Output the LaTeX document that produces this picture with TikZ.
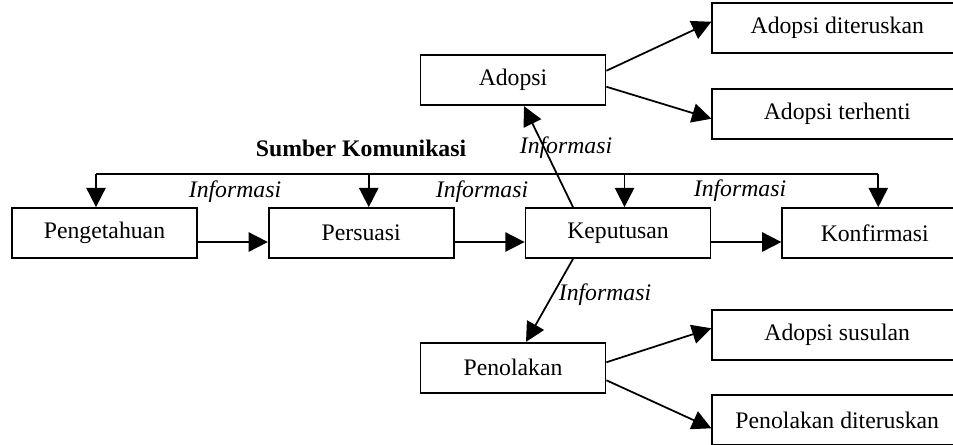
\documentclass[tikz,border=0pt]{standalone}
\usepackage{fontspec}
\setmainfont{Liberation Serif}
\usetikzlibrary{arrows.meta,positioning,calc}

\begin{document}
\begin{tikzpicture}[->, >={Triangle[length=11pt,width=11pt]}, line width=1pt, node distance=1.4cm,
	kotak/.style={rectangle, draw, minimum width=3.7cm, minimum height=1cm, inner sep=0pt, font=\fontsize{13.5}{16}\selectfont},
	hasil/.style={kotak, minimum width=5cm},
	info/.style={font=\fontsize{13.5}{16}\selectfont\itshape}]
	\useasboundingbox (0,0) rectangle (19.06,-8.88);
	\clip (0,0) rectangle (19.06,-8.88);

	\node[kotak] (tahu) at (2.09,-4.66)                                 {Pengetahuan};
	\node[kotak] (persuasi) [right=of tahu]                             {Persuasi};
	\node[kotak] (putus) [right=of persuasi]                            {Keputusan};
	\node[kotak] (konfirm) [right=of putus]                             {Konfirmasi};
	\node[kotak] (adopsi) [above=2.02cm of putus, xshift=-2.1cm]        {Adopsi};
	\node[kotak] (tolak) [below=1.66cm of putus, xshift=-2.1cm]         {Penolakan};
	\node[hasil] (lanjut) [right=2.1cm of adopsi, yshift=1.04cm]        {Adopsi diteruskan};
	\node[hasil] (henti) [right=2.1cm of adopsi, yshift=-0.67cm]        {Adopsi terhenti};
	\node[hasil] (susul) [right=2.1cm of tolak, yshift=0.65cm]          {Adopsi susulan};
	\node[hasil] (tolaklanjut) [right=2.1cm of tolak, yshift=-1.05cm]   {Penolakan diteruskan};

	% sumber komunikasi
	\coordinate (s1) at ($(tahu.north)+(-0.17,0.66)$);
	\coordinate (s2) at ($(persuasi.north)+(0.15,0.66)$);
	\coordinate (s3) at ($(putus.north)+(0.13,0.66)$);
	\coordinate (s4) at ($(konfirm.north)+(0.07,0.66)$);
	\node[font=\fontsize{13.5}{16}\selectfont\bfseries] (sumber) at (7.22,-2.96) {Sumber Komunikasi};
	\draw[-] (s1) -- (s4);
	\draw (s1) -- (s1 |- tahu.north);
	\draw (s2) -- (s2 |- persuasi.north);
	\draw (s3) -- (s3 |- putus.north);
	\draw (s4) -- (s4 |- konfirm.north);

	\draw ([yshift=-0.18cm]tahu.east) -- ([yshift=-0.18cm]persuasi.west);
	\draw ([yshift=-0.18cm]persuasi.east) -- ([yshift=-0.18cm]putus.west);
	\draw ([yshift=-0.18cm]putus.east) -- ([yshift=-0.18cm]konfirm.west);

	\draw ([xshift=-0.9cm]putus.north) -- ([xshift=0.22cm]adopsi.south);
	\draw ([xshift=-0.9cm]putus.south) -- ([xshift=0.26cm]tolak.north);

	\draw ([yshift=0.19cm]adopsi.east) -- ([yshift=0.13cm]lanjut.west);
	\draw ([yshift=-0.13cm]adopsi.east) -- ([yshift=-0.1cm]henti.west);
	\draw ([yshift=0.11cm]tolak.east) -- ([yshift=0.14cm]susul.west);
	\draw ([yshift=-0.25cm]tolak.east) -- ([yshift=-0.16cm]tolaklanjut.west);

	\node[info] (info1) at (4.7,-3.84)   {Informasi};
	\node[info] (info2) at (9.64,-3.84)  {Informasi};
	\node[info] (info3) at (14.8,-3.82)  {Informasi};
	\node[info] (info4) at (11.32,-2.96) {Informasi};
	\node[info] (info5) at (12.1,-5.9)   {Informasi};
\end{tikzpicture}
\end{document}
